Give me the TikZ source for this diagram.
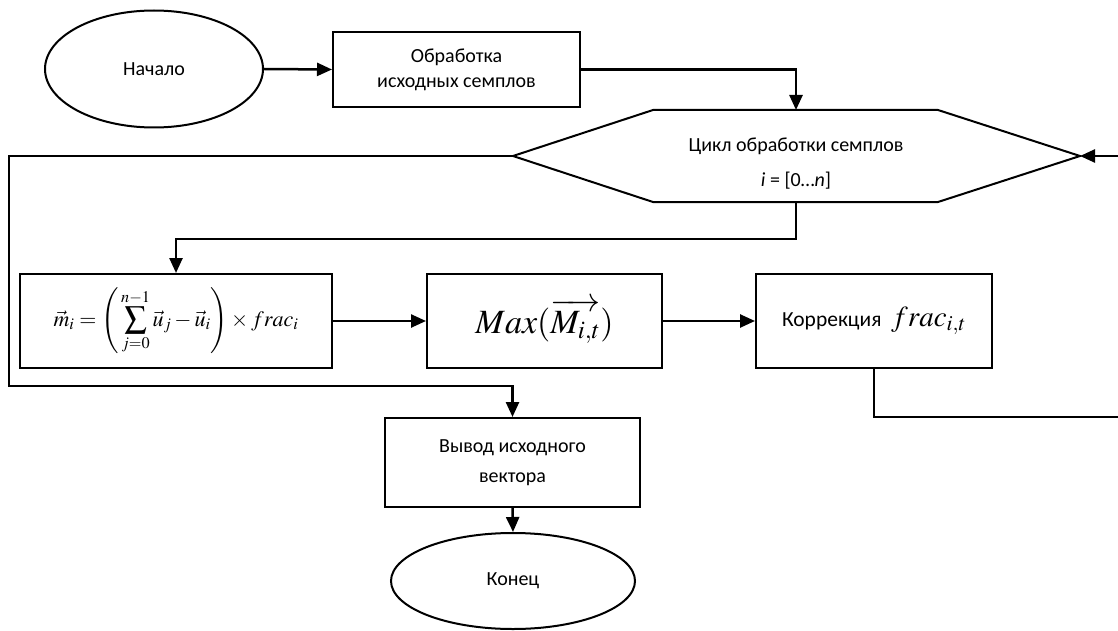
\documentclass[tikz,border=0pt]{standalone}
\usepackage{mathptmx}
\usepackage[no-math]{fontspec}
\setmainfont{Carlito}
\usepackage{amsmath}
\usetikzlibrary{shapes.geometric,arrows.meta}

\begin{document}
\begin{tikzpicture}[x=1pt,y=-1pt,
    block/.style={draw, line width=2pt, rectangle, align=center, inner sep=2pt},
    term/.style={draw, line width=2pt, ellipse, inner sep=0pt},
    flow/.style={line width=2.5pt, -{Triangle[length=15pt,width=13pt]}},
    txt/.style={font=\fontsize{20}{25}\selectfont}]
    \clip (0,0) rectangle (1118,631);
    \fill[white] (0,0) rectangle (1118,631);

    \node[term, txt, minimum width=218pt, minimum height=117pt] (start) at (154,69) {Начало};
    \node[block, txt, minimum width=247pt, minimum height=75pt] (prep) at (456.5,69.5) {Обработка\\исходных семплов};

    % loop header
    \coordinate (loopW) at (513,156);
    \coordinate (loopE) at (1080,156);
    \coordinate (loopN) at (796,110);
    \coordinate (loopS) at (796,202);
    \draw[line width=2pt] (loopW) -- (653,110) -- (938,110) -- (loopE) -- (938,202) -- (653,202) -- cycle;
    \node[txt, align=center] (loop) at (796,164) {Цикл обработки семплов\\[10pt]\textit{i} = [0…\textit{n}]};

    \node[block, minimum width=312pt, minimum height=94pt] (formula) at (176,321)
        {\fontsize{22}{26}\selectfont$\displaystyle \vec{m}_i=\left(\,\sum_{j=0}^{n-1}\vec{u}_j-\vec{u}_i\right)\times frac_i$};
    \node[block, minimum width=235pt, minimum height=94pt] (maxbox) at (544.5,321)
        {\fontsize{34}{40}\selectfont$Max(\overrightarrow{M_{i,t}})$};
    \node[block, minimum width=236pt, minimum height=94pt] (corr) at (874,321)
        {\raisebox{4pt}{\fontsize{21.5}{24}\selectfont Коррекция\ \ \fontsize{29}{34}\selectfont$frac_{i,t}$}};
    \node[block, txt, minimum width=255pt, minimum height=89pt] (output) at (512.5,462.5) {Вывод исходного\\[5pt]вектора};
    \node[term, txt, minimum width=244pt, minimum height=96pt] (stop) at (513,581) {Конец};

    \draw[flow] (start.east) -- (prep.west);
    \draw[flow] (prep.east) -| (loopN);
    \draw[flow] (loopS) -- ++(0,37) -| (formula.north);
    \draw[flow] (formula.east) -- (maxbox.west);
    \draw[flow] (maxbox.east) -- (corr.west);
    \draw[flow] (corr.south) -- ++(0,48) -| ([xshift=45pt]loopE) -- (loopE);
    \draw[flow] (loopW) -| ([shift={(-10pt,-17pt)}]formula.south west) -| (output.north);
    \draw[flow] (output.south) -- (stop.north);
\end{tikzpicture}
\end{document}
